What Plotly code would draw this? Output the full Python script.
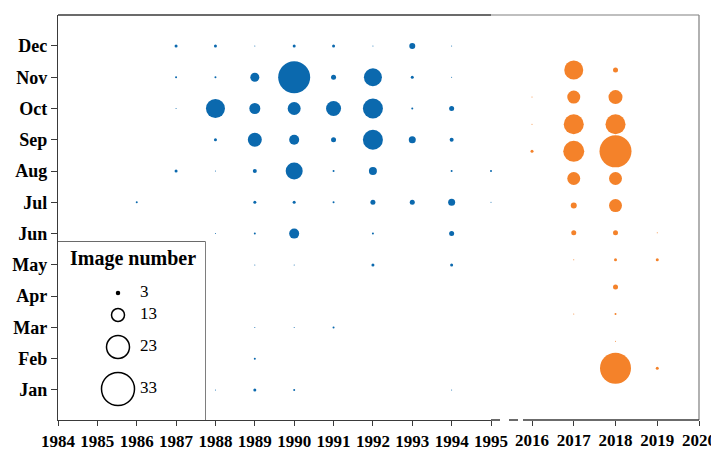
"""Bubble chart of monthly image counts, 1984-1995 and 2016-2020."""

import plotly.graph_objects as go

MONTHS = ["Jan", "Feb", "Mar", "Apr", "May", "Jun", "Jul", "Aug", "Sep", "Oct", "Nov", "Dec"]

EARLY_YEARS = list(range(1984, 1996))
LATE_YEARS = list(range(2016, 2021))

# image counts, rows Jan..Dec, columns = EARLY_YEARS
early_counts = [
    [0, 0, 0, 0, 1, 3, 2, 0, 0, 0, 1, 0],     # Jan
    [0, 0, 0, 0, 0, 2, 0, 0, 0, 0, 0, 0],     # Feb
    [0, 0, 0, 0, 0, 1, 1, 2, 0, 0, 0, 0],     # Mar
    [0, 0, 0, 0, 0, 0, 0, 0, 0, 0, 0, 0],     # Apr
    [0, 0, 0, 0, 0, 1, 1, 0, 3, 0, 3, 0],     # May
    [0, 0, 0, 0, 1, 2, 10, 0, 2, 0, 5, 0],    # Jun
    [0, 0, 2, 0, 0, 3, 3, 2, 5, 5, 7, 1],     # Jul
    [0, 0, 0, 3, 1, 4, 17, 2, 8, 0, 2, 2],    # Aug
    [0, 0, 0, 0, 3, 14, 10, 5, 20, 7, 4, 0],  # Sep
    [0, 0, 0, 1, 19, 11, 13, 15, 20, 2, 5, 0],  # Oct
    [0, 0, 0, 2, 2, 9, 32, 5, 18, 3, 1, 0],   # Nov
    [0, 0, 0, 3, 3, 1, 3, 3, 1, 6, 1, 0],     # Dec
]

# image counts, rows Jan..Dec, columns = LATE_YEARS
late_counts = [
    [0, 0, 31, 3, 0],   # Jan
    [0, 0, 1, 0, 0],    # Feb
    [0, 1, 2, 0, 0],    # Mar
    [0, 0, 5, 0, 0],    # Apr
    [0, 1, 3, 3, 0],    # May
    [0, 5, 5, 1, 0],    # Jun
    [0, 6, 13, 0, 0],   # Jul
    [0, 13, 13, 0, 0],  # Aug
    [3, 21, 32, 0, 0],  # Sep
    [1, 20, 20, 0, 0],  # Oct
    [1, 13, 14, 0, 0],  # Nov
    [0, 19, 5, 0, 0],   # Dec
]

legend_values = [3, 13, 23, 33]

BLUE = "#0B69AE"
ORANGE = "#F4822A"
DARK = "#3a3a3a"
FONT = "Liberation Serif"

# plot area in pixels (relative to the figure): x 50..691, y 7..412
PLOT_W, PLOT_H = 641, 405


def px(x):
    return x / PLOT_W


def flatten(counts, years):
    xs, ys, ss = [], [], []
    for m, row in enumerate(counts, start=1):
        for year, value in zip(years, row):
            if value > 0:
                xs.append(year)
                ys.append(m)
                ss.append(value)
    return xs, ys, ss


fig = go.Figure()

ex, ey, es = flatten(early_counts, EARLY_YEARS)
fig.add_trace(
    go.Scatter(
        x=ex, y=ey, mode="markers", xaxis="x", yaxis="y", cliponaxis=False,
        marker=dict(size=es, sizemode="diameter", color=BLUE, opacity=1, line=dict(width=0)),
        showlegend=False,
    )
)

lx, ly, ls = flatten(late_counts, LATE_YEARS)
fig.add_trace(
    go.Scatter(
        x=lx, y=ly, mode="markers", xaxis="x2", yaxis="y2", cliponaxis=False,
        marker=dict(size=ls, sizemode="diameter", color=ORANGE, opacity=1, line=dict(width=0)),
        showlegend=False,
    )
)

# size legend, y measured in px from the top of the box
legend_y = [51]
for a, b in zip(legend_values[:-1], legend_values[1:]):
    legend_y.append(legend_y[-1] + (a + b) / 2 + 14)

fig.add_trace(
    go.Scatter(
        x=[60] * len(legend_values), y=legend_y, mode="markers",
        xaxis="x3", yaxis="y3", cliponaxis=False,
        marker=dict(size=legend_values, sizemode="diameter", opacity=1,
                    color=["black" if v < 5 else "white" for v in legend_values],
                    line=dict(color="black", width=1.5)),
        showlegend=False,
    )
)
fig.add_trace(
    go.Scatter(
        x=[82] * len(legend_values), y=legend_y, mode="text",
        xaxis="x3", yaxis="y3", cliponaxis=False,
        text=[str(v) for v in legend_values], textposition="middle right",
        textfont=dict(family=FONT, size=17, color="black"),
        showlegend=False,
    )
)

tick_font = dict(family=FONT, size=18, color="black", weight="bold")
year_font = dict(family=FONT, size=17, color="black", weight="bold")
split = px(491 - 58)

fig.update_layout(
    width=711,
    height=442,
    margin=dict(l=50, r=20, t=7, b=30),
    paper_bgcolor="white",
    plot_bgcolor="white",
    xaxis=dict(
        domain=[0, split], range=[1984, 1995], anchor="y", automargin=False,
        tickvals=EARLY_YEARS, ticks="outside", ticklen=5, tickcolor=DARK,
        showline=True, linecolor=DARK, linewidth=1.3,
        showgrid=False, zeroline=False, tickfont=year_font,
    ),
    yaxis=dict(
        domain=[0, 1], range=[0.04, 12.99], anchor="x", automargin=False,
        tickvals=list(range(1, 13)), ticktext=MONTHS,
        ticks="outside", ticklen=6, tickcolor=DARK,
        showline=True, linecolor=DARK, linewidth=1.3,
        showgrid=False, zeroline=False, tickfont=tick_font,
    ),
    xaxis2=dict(
        domain=[px(532 - 58), 1], range=[2016, 2020], anchor="y2", automargin=False,
        tickvals=LATE_YEARS, ticks="outside", ticklen=5, tickcolor=DARK,
        showline=False, showgrid=False, zeroline=False, tickfont=year_font,
    ),
    yaxis2=dict(domain=[0, 1], range=[-0.906, 14.028], anchor="x2", visible=False),
    xaxis3=dict(domain=[0, px(205 - 58)], range=[0, 147], anchor="y3", visible=False),
    yaxis3=dict(domain=[0, (420 - 242) / PLOT_H], range=[178, 0], anchor="x3", visible=False),
    annotations=[
        dict(
            x=75, y=17, xref="x3", yref="y3", text="<b>Image number</b>",
            showarrow=False, font=dict(family=FONT, size=20, color="black"),
        )
    ],
    shapes=[
        # frame
        dict(type="line", xref="paper", yref="paper", x0=0, x1=split, y0=1, y1=1,
             line=dict(color=DARK, width=1.3)),
        dict(type="line", xref="paper", yref="paper", x0=split, x1=1, y0=1, y1=1,
             line=dict(color="#aaaaaa", width=1.3)),
        dict(type="line", xref="paper", yref="paper", x0=1, x1=1, y0=0, y1=1,
             line=dict(color="#888888", width=1.3)),
        dict(type="line", xref="paper", yref="paper", x0=split, x1=px(523 - 58), y0=0, y1=0,
             line=dict(color=DARK, width=1.3, dash="dash")),
        dict(type="line", xref="paper", yref="paper", x0=px(523 - 58), x1=1, y0=0, y1=0,
             line=dict(color=DARK, width=1.3)),
        # legend box
        dict(type="rect", xref="paper", yref="paper", layer="below",
             x0=0, x1=px(205 - 58), y0=0, y1=(420 - 242) / PLOT_H,
             fillcolor="white", line=dict(color=DARK, width=1.3)),
    ],
)

fig.write_html("out.html")
